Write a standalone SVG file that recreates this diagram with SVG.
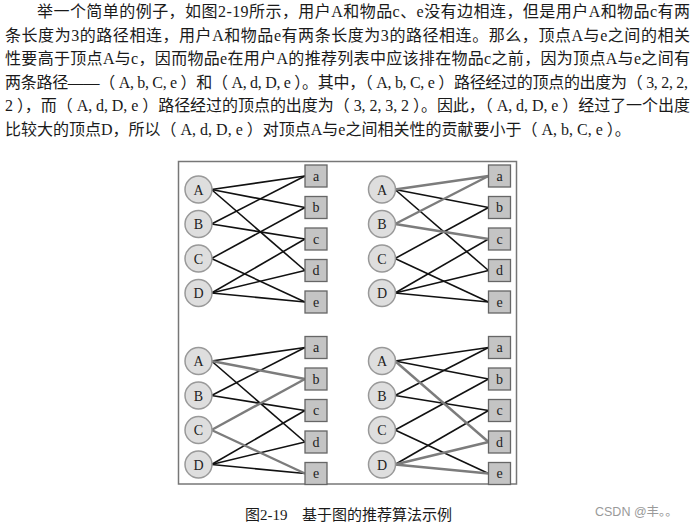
<svg xmlns="http://www.w3.org/2000/svg" width="700" height="526" viewBox="0 0 700 526">
<style>
.body{font-family:"Liberation Serif","Noto Sans CJK SC",serif;font-size:16px;fill:#1a1a1a}
.cap{font-family:"Liberation Serif","Noto Sans CJK SC",serif;font-size:15px;fill:#1a1a1a}
.wm{font-family:"Liberation Sans","Noto Sans CJK SC",sans-serif;font-size:12.5px;fill:#9a9a9a}
.u circle{fill:#dedede;stroke:#999;stroke-width:1.5}
.i rect{fill:#c4c4c4;stroke:#666;stroke-width:1.3}
.lbl{font-family:"Liberation Serif",serif;font-size:14px;fill:#222;text-anchor:middle}
.k{stroke:#111;stroke-width:1.6;fill:none}
.g{stroke:#7c7c7c;stroke-width:2.4;fill:none}
.frame{fill:none;stroke:#777;stroke-width:1.5}
</style>
<rect width="700" height="526" fill="#fff"/>
<g id="paragraph">
<text class="body" x="37" y="17" textLength="653" lengthAdjust="spacing">举一个简单的例子，如图2-19所示，用户A和物品c、e没有边相连，但是用户A和物品c有两</text>
<text class="body" x="5" y="40.5" textLength="685" lengthAdjust="spacing">条长度为3的路径相连，用户A和物品e有两条长度为3的路径相连。那么，顶点A与e之间的相关</text>
<text class="body" x="5" y="64" textLength="685" lengthAdjust="spacing">性要高于顶点A与c，因而物品e在用户A的推荐列表中应该排在物品c之前，因为顶点A与e之间有</text>
<text class="body" x="5" y="87.5" textLength="683" lengthAdjust="spacing">两条路径——（ A, b, C, e ）和（ A, d, D, e ）。其中，（ A, b, C, e ）路径经过的顶点的出度为（ 3, 2, 2,</text>
<text class="body" x="5" y="111" textLength="685" lengthAdjust="spacing">2 ），而（ A, d, D, e ）路径经过的顶点的出度为（ 3, 2, 3, 2 ）。因此，（ A, d, D, e ）经过了一个出度</text>
<text class="body" x="5" y="134.5">比较大的顶点D，所以（ A, d, D, e ）对顶点A与e之间相关性的贡献要小于（ A, b, C, e ）。</text>
</g>
<rect class="frame" x="178.5" y="161.5" width="338" height="322.5"/>
<g id="connectors">
<g id="edges-1">
<line class="k" x1="211.5" y1="189.5" x2="305" y2="176"/>
<line class="k" x1="211.5" y1="189.5" x2="305" y2="207.5"/>
<line class="k" x1="211.5" y1="189.5" x2="305" y2="270.5"/>
<line class="k" x1="211.5" y1="224" x2="305" y2="176"/>
<line class="k" x1="211.5" y1="224" x2="305" y2="239"/>
<line class="k" x1="211.5" y1="258.5" x2="305" y2="207.5"/>
<line class="k" x1="211.5" y1="258.5" x2="305" y2="302"/>
<line class="k" x1="211.5" y1="293" x2="305" y2="239"/>
<line class="k" x1="211.5" y1="293" x2="305" y2="270.5"/>
<line class="k" x1="211.5" y1="293" x2="305" y2="302"/>
</g>
<g id="edges-2">
<line class="k" x1="395" y1="189.5" x2="488.5" y2="207.5"/>
<line class="k" x1="395" y1="189.5" x2="488.5" y2="270.5"/>
<line class="k" x1="395" y1="258.5" x2="488.5" y2="207.5"/>
<line class="k" x1="395" y1="258.5" x2="488.5" y2="302"/>
<line class="k" x1="395" y1="293" x2="488.5" y2="239"/>
<line class="k" x1="395" y1="293" x2="488.5" y2="270.5"/>
<line class="k" x1="395" y1="293" x2="488.5" y2="302"/>
<line class="g" x1="395" y1="189.5" x2="488.5" y2="176"/>
<line class="g" x1="395" y1="224" x2="488.5" y2="176"/>
<line class="g" x1="395" y1="224" x2="488.5" y2="239"/>
</g>
<g id="edges-3">
<line class="k" x1="211.5" y1="361" x2="305" y2="347.5"/>
<line class="k" x1="211.5" y1="361" x2="305" y2="442"/>
<line class="k" x1="211.5" y1="395.5" x2="305" y2="347.5"/>
<line class="k" x1="211.5" y1="395.5" x2="305" y2="410.5"/>
<line class="k" x1="211.5" y1="464.5" x2="305" y2="410.5"/>
<line class="k" x1="211.5" y1="464.5" x2="305" y2="442"/>
<line class="k" x1="211.5" y1="464.5" x2="305" y2="473.5"/>
<line class="g" x1="211.5" y1="361" x2="305" y2="379"/>
<line class="g" x1="211.5" y1="430" x2="305" y2="379"/>
<line class="g" x1="211.5" y1="430" x2="305" y2="473.5"/>
</g>
<g id="edges-4">
<line class="k" x1="395" y1="361" x2="488.5" y2="347.5"/>
<line class="k" x1="395" y1="361" x2="488.5" y2="379"/>
<line class="k" x1="395" y1="395.5" x2="488.5" y2="347.5"/>
<line class="k" x1="395" y1="395.5" x2="488.5" y2="410.5"/>
<line class="k" x1="395" y1="430" x2="488.5" y2="379"/>
<line class="k" x1="395" y1="430" x2="488.5" y2="473.5"/>
<line class="k" x1="395" y1="464.5" x2="488.5" y2="410.5"/>
<line class="g" x1="395" y1="361" x2="488.5" y2="442"/>
<line class="g" x1="395" y1="464.5" x2="488.5" y2="442"/>
<line class="g" x1="395" y1="464.5" x2="488.5" y2="473.5"/>
</g>
</g>
<g id="g1-A" class="u"><circle cx="198.5" cy="189.5" r="13.5"/><text class="lbl" x="198.5" y="194.5">A</text></g>
<g id="g1-B" class="u"><circle cx="198.5" cy="224" r="13.5"/><text class="lbl" x="198.5" y="229">B</text></g>
<g id="g1-C" class="u"><circle cx="198.5" cy="258.5" r="13.5"/><text class="lbl" x="198.5" y="263.5">C</text></g>
<g id="g1-D" class="u"><circle cx="198.5" cy="293" r="13.5"/><text class="lbl" x="198.5" y="298">D</text></g>
<g id="g1-a" class="i"><rect x="305" y="165" width="22" height="22"/><text class="lbl" x="316" y="180.5">a</text></g>
<g id="g1-b" class="i"><rect x="305" y="196.5" width="22" height="22"/><text class="lbl" x="316" y="212">b</text></g>
<g id="g1-c" class="i"><rect x="305" y="228" width="22" height="22"/><text class="lbl" x="316" y="243.5">c</text></g>
<g id="g1-d" class="i"><rect x="305" y="259.5" width="22" height="22"/><text class="lbl" x="316" y="275">d</text></g>
<g id="g1-e" class="i"><rect x="305" y="291" width="22" height="22"/><text class="lbl" x="316" y="306.5">e</text></g>
<g id="g2-A" class="u"><circle cx="382" cy="189.5" r="13.5"/><text class="lbl" x="382" y="194.5">A</text></g>
<g id="g2-B" class="u"><circle cx="382" cy="224" r="13.5"/><text class="lbl" x="382" y="229">B</text></g>
<g id="g2-C" class="u"><circle cx="382" cy="258.5" r="13.5"/><text class="lbl" x="382" y="263.5">C</text></g>
<g id="g2-D" class="u"><circle cx="382" cy="293" r="13.5"/><text class="lbl" x="382" y="298">D</text></g>
<g id="g2-a" class="i"><rect x="488.5" y="165" width="22" height="22"/><text class="lbl" x="499.5" y="180.5">a</text></g>
<g id="g2-b" class="i"><rect x="488.5" y="196.5" width="22" height="22"/><text class="lbl" x="499.5" y="212">b</text></g>
<g id="g2-c" class="i"><rect x="488.5" y="228" width="22" height="22"/><text class="lbl" x="499.5" y="243.5">c</text></g>
<g id="g2-d" class="i"><rect x="488.5" y="259.5" width="22" height="22"/><text class="lbl" x="499.5" y="275">d</text></g>
<g id="g2-e" class="i"><rect x="488.5" y="291" width="22" height="22"/><text class="lbl" x="499.5" y="306.5">e</text></g>
<g id="g3-A" class="u"><circle cx="198.5" cy="361" r="13.5"/><text class="lbl" x="198.5" y="366">A</text></g>
<g id="g3-B" class="u"><circle cx="198.5" cy="395.5" r="13.5"/><text class="lbl" x="198.5" y="400.5">B</text></g>
<g id="g3-C" class="u"><circle cx="198.5" cy="430" r="13.5"/><text class="lbl" x="198.5" y="435">C</text></g>
<g id="g3-D" class="u"><circle cx="198.5" cy="464.5" r="13.5"/><text class="lbl" x="198.5" y="469.5">D</text></g>
<g id="g3-a" class="i"><rect x="305" y="336.5" width="22" height="22"/><text class="lbl" x="316" y="352">a</text></g>
<g id="g3-b" class="i"><rect x="305" y="368" width="22" height="22"/><text class="lbl" x="316" y="383.5">b</text></g>
<g id="g3-c" class="i"><rect x="305" y="399.5" width="22" height="22"/><text class="lbl" x="316" y="415">c</text></g>
<g id="g3-d" class="i"><rect x="305" y="431" width="22" height="22"/><text class="lbl" x="316" y="446.5">d</text></g>
<g id="g3-e" class="i"><rect x="305" y="462.5" width="22" height="22"/><text class="lbl" x="316" y="478">e</text></g>
<g id="g4-A" class="u"><circle cx="382" cy="361" r="13.5"/><text class="lbl" x="382" y="366">A</text></g>
<g id="g4-B" class="u"><circle cx="382" cy="395.5" r="13.5"/><text class="lbl" x="382" y="400.5">B</text></g>
<g id="g4-C" class="u"><circle cx="382" cy="430" r="13.5"/><text class="lbl" x="382" y="435">C</text></g>
<g id="g4-D" class="u"><circle cx="382" cy="464.5" r="13.5"/><text class="lbl" x="382" y="469.5">D</text></g>
<g id="g4-a" class="i"><rect x="488.5" y="336.5" width="22" height="22"/><text class="lbl" x="499.5" y="352">a</text></g>
<g id="g4-b" class="i"><rect x="488.5" y="368" width="22" height="22"/><text class="lbl" x="499.5" y="383.5">b</text></g>
<g id="g4-c" class="i"><rect x="488.5" y="399.5" width="22" height="22"/><text class="lbl" x="499.5" y="415">c</text></g>
<g id="g4-d" class="i"><rect x="488.5" y="431" width="22" height="22"/><text class="lbl" x="499.5" y="446.5">d</text></g>
<g id="g4-e" class="i"><rect x="488.5" y="462.5" width="22" height="22"/><text class="lbl" x="499.5" y="478">e</text></g>
<text id="caption" class="cap" x="245" y="520">图2-19<tspan x="302">基于图的推荐算法示例</tspan></text>
<text id="watermark" class="wm" x="595" y="516">CSDN @丰。。</text>
</svg>
